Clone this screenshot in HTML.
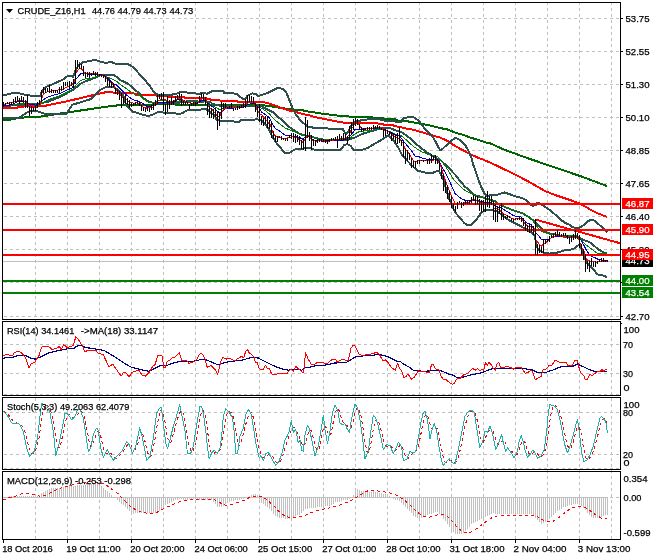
<!DOCTYPE html>
<html><head><meta charset="utf-8"><title>CRUDE_Z16,H1</title>
<style>html,body{margin:0;padding:0;background:#fff;}body{width:660px;height:560px;overflow:hidden;}svg{display:block;}</style>
</head><body>
<svg width="660" height="560" viewBox="0 0 660 560"><rect x="0" y="0" width="660" height="560" fill="#fff"/><path d="M4,18.5H620 M4,51.5H620 M4,84.5H620 M4,117.5H620 M4,150.5H620 M4,183.5H620 M4,216.5H620 M4,249.5H620 M4,282.5H620 M4,316.5H620 M4,344.5H620 M4,373.5H620 M4,394.5H620 M4,412.5H620 M4,454.5H620 M4,468.5H620 M4,497.5H620" stroke="#c0c0c0" stroke-width="1" stroke-dasharray="3 3" fill="none" shape-rendering="crispEdges"/><path d="M35.5,2V539 M67.5,2V539 M99.5,2V539 M131.5,2V539 M163.5,2V539 M195.5,2V539 M227.5,2V539 M259.5,2V539 M291.5,2V539 M323.5,2V539 M355.5,2V539 M387.5,2V539 M419.5,2V539 M451.5,2V539 M483.5,2V539 M515.5,2V539 M547.5,2V539 M579.5,2V539 M611.5,2V539" stroke="#c0c0c0" stroke-width="1" stroke-dasharray="3 3" fill="none" shape-rendering="crispEdges"/><defs><clipPath id="cm"><rect x="3" y="3" width="617" height="316"/></clipPath><clipPath id="c1"><rect x="3" y="322" width="617" height="73"/></clipPath><clipPath id="c2"><rect x="3" y="398" width="617" height="71"/></clipPath><clipPath id="c3"><rect x="3" y="472" width="617" height="67"/></clipPath></defs><g clip-path="url(#cm)"><path d="M2,261.5H620" stroke="#c0c0c0" stroke-width="1" shape-rendering="crispEdges"/><polyline points="3.0,119.8 9.8,119.8 20.5,117.6 36.4,117.2 67.0,112.5 110.0,106.2 120.3,105.1 130.2,104.7 145.3,104.7 165.0,104.3 190.0,104.8 216.0,104.5 233.0,104.6 255.0,104.8 258.0,104.8 265.6,105.6 273.2,106.7 280.7,107.9 288.3,109.0 295.9,109.8 303.5,110.5 308.0,111.5 323.2,113.8 338.3,115.7 345.9,116.4 355.0,116.7 362.6,117.1 383.0,117.9 383.8,119.0 395.2,119.4 397.4,120.5 405.0,120.9 413.0,122.3 428.0,125.1 440.0,128.0 447.6,129.5 455.2,132.6 462.7,134.8 470.3,137.5 477.9,139.8 485.5,142.4 490.0,143.2 505.0,150.0 530.0,159.0 555.0,167.5 580.0,176.0 607.0,186.0" fill="none" stroke="#006400" stroke-width="2" stroke-linejoin="round" shape-rendering="crispEdges" /><polyline points="3.0,107.7 17.4,107.7 18.2,106.6 43.2,106.2 67.0,101.3 83.0,97.5 106.3,92.1 115.0,92.6 127.1,92.6 127.9,93.3 139.2,93.7 140.0,94.5 145.3,94.8 157.4,95.6 165.0,96.4 183.9,97.2 185.5,97.9 205.9,98.3 207.4,99.0 215.0,100.2 219.6,100.5 237.0,101.3 238.1,102.0 258.0,101.8 265.6,102.6 273.2,104.8 280.7,107.9 288.3,110.2 295.9,112.0 303.5,114.3 308.0,114.9 315.6,117.2 323.2,118.7 330.7,120.2 338.3,121.7 345.9,122.9 350.4,123.3 355.0,122.4 361.8,123.2 383.0,123.6 383.8,124.7 392.9,125.1 394.4,126.2 400.5,127.0 403.0,128.0 412.1,129.5 422.7,132.5 430.3,134.8 437.9,137.1 440.0,137.5 447.6,140.9 455.2,146.2 462.7,150.0 470.3,154.2 477.9,157.6 485.5,160.6 490.0,162.5 497.0,165.8 512.0,173.0 526.0,180.2 545.0,191.0 555.0,195.0 568.0,199.3 580.0,203.5 590.0,209.4 597.0,213.0 607.0,217.0" fill="none" stroke="#ff0000" stroke-width="2" stroke-linejoin="round" shape-rendering="crispEdges" /><polyline points="3.0,94.8 7.6,94.5 14.4,92.6 19.0,93.3 25.0,94.8 30.3,95.6 40.2,95.6 42.1,91.4 45.8,87.1 54.2,83.5 63.9,79.2 66.4,76.8 70.0,75.6 73.0,76.8 76.0,69.5 79.7,63.5 80.5,64.1 82.1,62.6 87.4,61.4 94.9,59.9 99.5,61.4 106.3,63.0 110.8,61.8 115.4,63.7 120.0,63.8 127.6,63.8 131.4,66.1 133.6,67.2 138.9,73.6 142.7,77.4 146.5,82.0 150.3,86.5 153.3,91.1 155.6,94.1 159.4,94.8 170.0,94.8 172.6,94.5 176.4,93.7 180.2,91.8 185.5,91.8 187.0,92.6 195.3,93.0 196.8,94.1 199.1,94.1 201.4,93.0 207.4,93.7 210.5,91.8 212.0,91.4 223.4,91.4 224.1,92.9 233.2,93.3 237.0,94.1 242.3,98.6 245.3,99.4 247.6,95.6 252.2,93.3 255.9,94.1 257.5,95.6 260.0,95.5 266.7,93.3 273.3,90.0 278.3,87.5 283.3,89.2 286.7,93.3 289.8,101.1 292.8,108.6 295.9,114.7 301.4,121.8 305.9,124.8 308.0,126.5 315.6,128.2 326.9,128.2 329.2,128.9 342.8,128.9 344.4,132.0 345.9,134.5 348.0,132.0 350.5,127.0 354.0,122.7 355.0,122.0 358.0,120.9 362.6,120.2 370.2,119.0 377.7,119.0 383.8,120.5 389.1,121.3 394.4,121.3 397.4,122.4 400.5,122.4 403.5,118.6 405.0,117.9 406.0,118.0 409.0,116.5 413.0,116.8 419.0,120.8 424.2,128.0 428.8,132.5 433.3,137.8 436.4,143.2 438.6,147.7 440.2,150.0 442.3,149.2 444.5,147.0 449.1,143.2 452.1,140.2 455.2,137.9 458.9,139.4 462.7,142.4 465.8,146.2 468.8,151.5 471.1,156.8 473.3,165.0 476.2,172.9 478.4,179.7 481.5,187.3 484.5,193.3 486.9,195.6 496.0,195.2 504.7,192.4 511.7,195.0 516.2,196.5 522.3,198.0 526.1,200.3 529.9,204.1 532.9,206.0 536.0,204.8 537.5,202.6 540.5,204.1 548.0,208.7 555.7,215.0 560.3,219.5 564.8,222.6 569.4,224.8 572.4,227.1 575.4,227.9 578.5,227.9 581.5,226.4 583.0,225.6 587.0,222.0 591.0,219.5 595.0,221.0 599.5,225.0 603.3,228.0 607.1,232.2" fill="none" stroke="#2f4f4f" stroke-width="2" stroke-linejoin="round" shape-rendering="crispEdges" /><polyline points="3.0,106.0 20.0,105.0 27.0,104.0 39.0,103.6 48.2,101.7 60.3,96.8 72.4,90.2 76.0,87.6 80.5,83.8 85.8,81.1 91.2,79.2 95.7,77.7 99.5,75.5 102.5,74.7 113.1,74.7 116.9,77.0 120.0,80.1 123.8,81.6 127.6,83.5 131.4,86.5 135.2,90.3 138.9,92.6 142.3,97.1 146.8,100.9 151.4,102.4 155.9,103.2 165.0,103.2 172.6,103.6 180.2,102.5 187.7,101.3 190.8,100.6 195.3,100.8 199.8,102.1 205.9,101.3 210.5,102.1 212.0,103.5 218.0,105.4 225.0,106.5 245.0,106.0 257.0,105.5 262.0,106.5 265.6,108.6 273.2,112.4 279.4,118.0 284.7,122.5 289.3,127.1 293.8,130.1 298.4,133.2 302.9,135.0 308.0,135.8 315.6,138.0 323.2,139.5 338.3,139.9 347.4,139.9 350.4,138.8 355.0,137.6 362.6,133.8 370.2,131.5 377.7,129.2 385.3,127.7 388.3,127.7 392.9,129.2 397.4,131.1 400.0,131.4 403.8,133.7 407.6,136.3 411.4,139.4 415.2,143.2 418.9,146.2 422.7,149.2 426.5,152.2 430.3,154.5 434.1,156.8 437.9,159.1 440.5,160.0 445.1,164.5 451.2,170.6 455.7,175.2 460.2,181.2 464.8,186.5 468.7,189.5 473.3,194.1 476.3,195.6 481.6,197.1 485.4,198.3 491.5,200.2 496.0,201.7 499.6,204.8 507.2,207.9 514.7,210.9 522.3,213.2 526.1,215.5 529.9,217.7 533.0,220.3 536.8,224.1 540.6,227.9 544.4,231.7 548.2,233.2 551.9,233.9 555.7,234.7 559.5,235.8 563.3,236.6 567.8,237.0 576.2,237.0 580.0,237.7 583.0,240.0 588.9,241.7 592.7,244.7 596.9,248.1 601.3,251.3 607.0,253.6" fill="none" stroke="#2f4f4f" stroke-width="2" stroke-linejoin="round" shape-rendering="crispEdges" /><polyline points="3.0,118.3 19.7,117.6 22.7,115.3 26.5,112.7 30.3,111.1 36.4,110.8 39.4,111.9 44.5,113.8 66.4,113.8 72.4,104.7 78.5,102.9 90.6,99.2 95.7,94.4 100.2,89.8 104.8,87.6 109.3,86.8 113.9,87.2 116.9,89.1 119.9,92.1 123.0,95.0 126.4,105.5 128.6,107.7 132.4,111.5 137.7,113.0 142.3,114.5 148.3,116.1 152.9,114.5 157.4,112.3 160.5,111.9 165.0,113.0 174.8,113.1 176.4,113.8 180.2,113.8 183.2,112.7 187.0,110.4 191.5,109.7 199.8,109.7 204.4,108.9 208.0,110.0 212.0,113.8 215.0,115.3 216.5,119.8 219.6,120.6 233.2,121.0 234.7,122.1 238.5,122.1 240.8,120.2 254.4,119.8 256.7,119.0 258.0,119.5 262.0,121.0 266.0,125.0 269.6,130.9 273.4,138.5 277.2,143.8 280.9,148.3 284.7,152.8 289.3,152.8 292.3,151.0 296.8,148.7 302.2,149.1 308.0,147.5 315.6,150.0 340.6,150.0 344.4,144.8 347.4,144.1 350.4,145.6 353.5,149.5 356.0,150.0 361.0,150.0 368.0,148.0 372.4,145.0 377.7,142.1 383.8,138.3 386.8,136.1 388.3,135.3 393.0,140.0 398.0,147.0 402.0,155.0 411.7,165.4 417.5,170.5 427.6,173.3 433.3,172.6 436.0,171.5 439.0,171.0 443.0,178.0 447.0,192.0 450.0,201.0 452.8,207.7 455.8,213.0 459.6,217.6 464.2,222.9 467.2,225.0 471.0,225.0 474.8,221.4 477.8,217.6 481.6,212.3 485.4,210.0 491.5,210.0 496.0,211.0 496.5,210.9 499.6,213.2 504.1,217.0 510.2,220.8 516.2,223.8 520.8,226.1 524.6,228.3 529.9,231.4 532.9,233.6 534.4,235.0 538.0,250.0 543.6,252.9 549.7,253.6 555.7,252.9 559.5,252.1 563.3,250.6 569.4,249.8 573.2,249.1 576.2,246.8 579.2,244.5 579.8,244.7 582.0,250.0 584.5,257.0 586.3,262.5 590.6,266.9 593.8,270.0 597.5,274.4 601.3,275.0 607.0,277.0" fill="none" stroke="#2f4f4f" stroke-width="2" stroke-linejoin="round" shape-rendering="crispEdges" /><polyline points="3.0,106.2 15.2,104.3 22.7,103.2 27.3,104.0 34.1,105.1 39.4,104.7 42.1,103.5 48.2,99.8 60.3,95.6 72.4,89.5 76.0,85.3 80.5,80.8 83.6,79.2 89.6,78.5 94.9,77.3 98.7,75.5 103.3,75.5 107.8,77.3 112.4,79.2 116.9,81.5 120.0,84.2 125.6,88.0 131.7,92.6 136.2,95.6 140.0,95.6 143.8,99.4 148.3,102.4 152.9,103.2 157.4,100.9 162.0,100.9 165.0,100.9 172.6,102.1 180.2,100.9 187.7,101.7 195.3,102.1 202.9,100.9 207.4,101.7 212.0,105.4 216.5,107.7 219.6,109.6 223.4,108.1 230.9,107.3 238.5,106.9 246.1,106.2 251.4,105.0 255.9,105.4 259.0,106.9 262.0,108.5 265.6,110.9 269.4,113.9 273.2,118.5 277.2,121.8 280.9,124.8 284.7,127.8 288.5,129.4 292.3,130.9 296.1,132.4 299.9,134.3 303.7,135.4 308.0,135.0 311.8,136.5 315.6,138.4 323.2,139.2 330.7,139.5 338.3,139.2 347.4,138.4 350.4,137.3 353.5,135.0 355.0,133.8 359.5,131.5 366.4,130.8 373.9,130.0 380.0,129.2 385.3,130.0 389.8,131.5 394.4,133.8 398.2,135.3 400.0,134.8 403.8,137.8 407.6,140.9 411.4,144.7 415.2,147.7 418.9,150.0 422.7,152.2 426.5,153.8 430.3,154.9 434.1,155.3 436.4,156.0 439.4,158.3 440.5,160.0 445.8,166.8 449.6,172.9 452.7,178.2 457.2,183.5 461.8,188.0 464.8,190.3 469.3,192.6 473.9,194.8 478.4,197.1 482.4,197.9 486.9,198.6 491.5,199.4 492.0,200.3 496.5,202.6 501.8,205.6 507.2,207.9 514.7,210.2 522.3,213.2 526.8,215.5 531.4,218.5 533.0,221.1 536.8,226.4 540.6,230.9 544.4,232.4 548.2,233.9 551.9,234.7 555.7,235.1 563.3,235.5 570.9,235.8 575.4,235.5 578.5,236.2 581.5,238.5 582.9,241.7 586.7,245.5 591.3,248.8 595.6,252.2 597.5,253.1 600.6,253.4 607.0,253.6" fill="none" stroke="#008000" stroke-width="1" stroke-linejoin="round" shape-rendering="crispEdges" /><polyline points="3.0,106.2 11.4,104.7 16.7,102.0 22.7,101.3 26.5,102.0 30.3,104.7 36.4,105.1 40.2,102.8 43.3,99.8 48.2,96.8 60.3,93.2 72.4,87.7 76.0,79.2 79.0,75.5 81.3,73.2 84.3,73.6 91.2,74.3 98.7,74.7 103.3,75.1 106.3,77.0 110.1,80.8 113.9,83.8 116.5,85.0 121.8,90.3 126.4,94.8 130.2,97.9 134.7,100.2 139.2,101.3 142.3,103.2 146.8,106.2 151.4,106.2 154.4,105.5 157.4,103.2 160.5,102.4 165.0,102.8 172.6,102.5 176.4,100.2 180.2,99.0 183.9,100.2 187.7,102.5 195.3,103.6 199.1,102.5 201.4,100.2 204.4,100.2 207.4,102.5 210.5,105.5 212.0,106.2 215.8,110.0 219.6,113.0 221.8,111.5 224.9,108.8 230.9,108.1 238.5,107.7 243.8,106.9 247.6,104.7 251.4,103.5 254.4,103.5 257.5,106.2 260.5,110.0 261.8,112.4 265.6,114.7 269.6,118.0 272.6,124.8 275.6,128.6 278.7,130.5 282.5,133.2 285.5,135.4 290.8,135.8 296.1,136.6 299.9,137.7 302.9,139.2 305.2,136.9 308.0,135.8 311.8,138.8 315.6,140.7 323.2,141.1 330.7,140.7 338.3,140.3 345.9,139.9 349.7,136.5 353.5,132.0 355.0,129.6 359.5,129.2 366.4,128.9 373.9,128.5 380.0,127.7 383.8,129.2 389.1,131.5 392.9,133.8 396.7,135.3 400.0,136.3 403.8,141.6 407.6,146.2 411.4,150.7 415.2,156.0 418.9,156.8 422.7,158.3 426.5,159.1 434.8,159.1 437.9,160.6 438.3,160.0 441.3,166.1 445.1,172.1 448.9,179.7 451.9,186.5 454.9,193.3 457.4,195.6 461.2,198.6 464.9,200.2 470.2,200.5 474.8,200.2 479.3,200.9 483.9,202.0 488.4,202.8 493.0,203.2 493.5,204.8 496.5,206.4 501.1,207.9 504.9,210.2 508.7,212.4 512.5,215.1 516.2,216.6 520.8,217.0 523.8,220.0 526.8,223.0 531.4,224.5 533.0,227.9 536.0,233.2 539.1,236.2 541.3,239.2 548.2,239.2 551.9,237.7 555.7,236.2 559.5,236.2 563.3,236.6 567.1,237.0 570.9,237.7 574.7,237.3 578.5,237.7 580.6,239.4 583.6,244.7 586.3,250.0 588.8,253.8 591.9,256.3 596.3,258.4 598.8,259.7 601.3,260.0 607.5,260.6" fill="none" stroke="#0000cd" stroke-width="1" stroke-linejoin="round" shape-rendering="crispEdges" /><polyline points="3.0,104.3 7.6,103.6 15.2,101.3 21.2,100.5 25.8,101.7 28.0,104.0 30.3,107.0 34.8,107.7 37.9,106.6 40.2,104.0 41.5,99.8 43.3,93.8 48.2,91.4 54.2,90.8 62.7,89.0 72.4,84.7 74.8,80.5 76.0,73.2 78.3,69.4 80.5,68.3 82.8,70.2 84.3,73.2 87.4,73.6 94.9,73.2 98.7,74.7 102.5,75.5 106.3,77.7 108.6,80.8 111.6,83.4 113.9,85.3 115.0,88.0 118.0,92.6 121.0,95.6 124.1,98.6 127.1,100.2 130.2,102.4 133.9,103.2 137.7,102.8 140.8,103.9 143.0,107.0 146.8,108.1 149.8,107.7 152.9,107.0 155.9,103.9 158.2,100.9 160.5,99.8 163.5,99.4 166.0,100.0 169.5,102.5 172.6,101.7 175.6,100.2 178.6,97.9 181.7,99.4 184.7,101.7 187.7,102.8 191.5,103.2 195.3,103.2 198.3,102.1 200.6,99.4 202.9,98.3 205.2,99.4 207.4,104.0 209.7,107.8 212.0,109.2 215.0,113.0 218.1,116.8 219.6,117.2 221.1,113.0 223.4,109.2 227.2,107.7 231.7,107.3 237.0,107.7 242.3,106.6 245.3,104.7 247.6,103.2 249.9,101.6 252.9,102.4 255.2,105.4 257.5,110.7 260.5,114.5 261.0,113.9 264.1,117.7 268.0,122.5 270.3,124.8 271.8,130.1 274.1,134.7 277.2,136.6 280.9,137.7 284.7,138.5 288.5,137.7 292.3,136.9 296.8,137.7 299.9,140.0 302.9,142.2 304.4,140.0 308.0,135.0 311.8,139.9 315.6,141.1 323.2,140.7 327.7,141.8 330.7,140.3 338.3,139.5 345.9,138.0 348.9,135.0 351.2,129.7 353.5,125.9 355.0,122.4 358.0,122.4 360.3,127.0 364.1,129.2 370.2,128.5 376.2,127.7 380.0,127.3 383.8,130.0 388.3,131.5 392.9,135.3 397.4,137.6 400.0,139.4 403.0,143.2 405.3,149.2 408.3,152.2 410.6,156.8 412.9,159.8 415.2,162.1 418.2,160.6 430.3,160.6 434.8,159.8 437.9,161.3 440.2,164.4 442.8,172.9 445.1,179.7 447.4,185.8 449.6,191.8 451.9,196.4 455.1,203.2 461.2,203.2 468.7,202.4 473.3,199.4 476.3,200.2 479.3,202.4 483.9,203.2 488.4,203.2 493.0,203.9 493.5,207.9 496.5,208.6 499.6,210.2 502.6,213.2 507.2,215.5 511.7,218.5 514.7,219.2 519.3,218.5 522.3,219.2 524.6,223.0 527.6,226.1 531.4,226.8 534.5,228.6 536.0,240.0 539.1,243.8 541.3,246.1 543.6,243.8 545.9,242.3 548.2,240.8 551.2,237.7 554.2,236.2 557.2,235.5 561.8,236.2 566.3,237.0 570.9,237.7 575.4,237.0 578.5,237.7 579.8,242.4 581.3,246.9 583.8,250.6 585.6,257.5 587.5,260.0 590.0,261.3 593.8,261.9 596.3,262.2 598.8,261.6 601.3,261.3 607.5,261.4" fill="none" stroke="#ff0000" stroke-width="1" stroke-linejoin="round" shape-rendering="crispEdges" /><path d="M2,203.5H620" stroke="#ff0000" stroke-width="2" shape-rendering="crispEdges"/><path d="M2,229.5H620" stroke="#ff0000" stroke-width="2" shape-rendering="crispEdges"/><path d="M2,254.5H620" stroke="#ff0000" stroke-width="2" shape-rendering="crispEdges"/><path d="M2,280.5H620" stroke="#008000" stroke-width="2" shape-rendering="crispEdges"/><path d="M2,292.5H620" stroke="#008000" stroke-width="2" shape-rendering="crispEdges"/><polyline points="535.8,219.7 620.0,243.2" fill="none" stroke="#ff0000" stroke-width="2" stroke-linejoin="round" shape-rendering="crispEdges" /><path d="M3.5,102V106 M5.5,103V105 M7.5,102V104 M9.5,102V105 M11.5,102V105 M13.5,99V104 M15.5,97V102 M17.5,96V102 M19.5,98V104 M21.5,96V102 M23.5,97V103 M25.5,100V108 M27.5,95V108 M29.5,106V116 M31.5,106V114 M33.5,107V111 M35.5,106V111 M37.5,102V108 M39.5,100V105 M41.5,90V102 M43.5,87V93 M45.5,88V93 M47.5,88V92 M49.5,85V93 M51.5,89V93 M53.5,90V93 M55.5,90V93 M57.5,90V93 M59.5,87V93 M61.5,86V91 M63.5,82V90 M65.5,82V86 M67.5,82V86 M69.5,81V88 M71.5,82V86 M73.5,79V88 M75.5,60V84 M77.5,60V69 M79.5,64V69 M81.5,64V69 M83.5,66V76 M85.5,72V78 M87.5,72V77 M89.5,72V78 M91.5,73V76 M93.5,71V75 M95.5,72V76 M97.5,72V76 M99.5,74V76 M101.5,75V77 M103.5,75V78 M105.5,76V82 M107.5,78V86 M109.5,80V87 M111.5,82V88 M113.5,83V87 M115.5,88V94 M117.5,90V95 M119.5,91V100 M121.5,93V108 M123.5,97V104 M125.5,94V104 M127.5,98V105 M129.5,100V108 M131.5,103V107 M133.5,103V106 M135.5,102V105 M137.5,101V104 M139.5,102V106 M141.5,105V111 M143.5,107V111 M145.5,108V112 M147.5,107V111 M149.5,108V112 M151.5,105V110 M153.5,103V110 M155.5,100V106 M157.5,95V104 M159.5,94V99 M161.5,93V100 M163.5,92V111 M165.5,104V115 M167.5,96V112 M169.5,100V109 M171.5,97V105 M173.5,100V105 M175.5,96V102 M177.5,95V100 M179.5,93V98 M181.5,94V106 M183.5,101V105 M185.5,102V105 M187.5,102V104 M189.5,104V109 M191.5,103V106 M193.5,102V106 M195.5,102V106 M197.5,102V104 M199.5,96V102 M201.5,93V98 M203.5,94V100 M205.5,97V105 M207.5,103V115 M209.5,106V118 M211.5,108V118 M213.5,109V119 M215.5,108V117 M217.5,111V130 M219.5,113V126 M221.5,102V119 M223.5,103V109 M225.5,103V108 M227.5,107V108 M229.5,106V108 M231.5,103V108 M233.5,108V111 M235.5,108V110 M237.5,106V110 M239.5,106V109 M241.5,105V108 M243.5,103V108 M245.5,99V108 M247.5,95V103 M249.5,95V102 M251.5,96V102 M253.5,97V104 M255.5,103V112 M257.5,107V117 M259.5,104V122 M261.5,116V125 M263.5,118V126 M265.5,116V124 M267.5,116V128 M269.5,120V129 M271.5,122V138 M273.5,131V139 M275.5,136V142 M277.5,136V142 M279.5,136V138 M281.5,136V140 M283.5,138V140 M285.5,138V141 M287.5,138V141 M289.5,135V138 M291.5,133V139 M293.5,133V142 M295.5,134V143 M297.5,135V142 M299.5,136V145 M301.5,140V149 M303.5,138V150 M305.5,117V151 M307.5,120V138 M309.5,132V141 M311.5,135V150 M313.5,139V146 M315.5,140V146 M317.5,139V143 M319.5,139V142 M321.5,139V141 M323.5,139V142 M325.5,140V143 M327.5,140V144 M329.5,139V142 M331.5,138V141 M333.5,138V140 M335.5,137V140 M337.5,136V148 M339.5,134V140 M341.5,136V140 M343.5,133V140 M345.5,134V140 M347.5,136V144 M349.5,126V140 M351.5,122V135 M353.5,119V130 M355.5,118V126 M357.5,119V125 M359.5,124V129 M361.5,127V132 M363.5,128V131 M365.5,128V130 M367.5,127V130 M369.5,127V130 M371.5,127V130 M373.5,125V129 M375.5,126V128 M377.5,125V128 M379.5,126V129 M381.5,128V130 M383.5,129V137 M385.5,129V136 M387.5,130V134 M389.5,132V135 M391.5,132V141 M393.5,134V139 M395.5,135V143 M397.5,133V144 M399.5,127V143 M401.5,140V146 M403.5,141V157 M405.5,149V164 M407.5,150V161 M409.5,153V160 M411.5,158V168 M413.5,161V168 M415.5,161V168 M417.5,160V164 M419.5,160V164 M421.5,160V161 M423.5,160V162 M425.5,160V161 M427.5,160V164 M429.5,158V164 M431.5,154V163 M433.5,156V160 M435.5,155V164 M437.5,159V164 M439.5,161V170 M441.5,169V179 M443.5,174V191 M445.5,181V193 M447.5,185V199 M449.5,191V202 M451.5,196V208 M453.5,204V210 M455.5,206V212 M457.5,202V209 M459.5,201V203 M461.5,202V208 M463.5,202V206 M465.5,201V204 M467.5,201V204 M469.5,200V204 M471.5,197V203 M473.5,195V200 M475.5,196V205 M477.5,196V204 M479.5,199V211 M481.5,200V212 M483.5,200V212 M485.5,196V212 M487.5,191V207 M489.5,196V208 M491.5,196V205 M493.5,201V220 M495.5,204V222 M497.5,206V222 M499.5,206V214 M501.5,203V220 M503.5,214V220 M505.5,216V219 M507.5,215V218 M509.5,216V218 M511.5,218V221 M513.5,219V222 M515.5,218V220 M517.5,218V220 M519.5,217V220 M521.5,217V222 M523.5,218V226 M525.5,222V231 M527.5,225V232 M529.5,224V233 M531.5,225V232 M533.5,226V235 M535.5,219V255 M537.5,244V255 M539.5,245V253 M541.5,247V253 M543.5,239V253 M545.5,240V244 M547.5,239V242 M549.5,236V242 M551.5,235V238 M553.5,234V238 M555.5,232V236 M557.5,230V236 M559.5,232V236 M561.5,234V237 M563.5,233V236 M565.5,233V236 M567.5,235V239 M569.5,237V244 M571.5,236V242 M573.5,234V240 M575.5,230V239 M577.5,233V239 M579.5,235V248 M581.5,244V255 M583.5,249V260 M585.5,254V272 M587.5,261V269 M589.5,261V272 M591.5,258V266 M593.5,262V267 M595.5,261V267 M597.5,261V264 M599.5,259V262 M601.5,258V262 M603.5,258V262 M605.5,260V262 M607.5,260V262" stroke="#000" stroke-width="1" shape-rendering="crispEdges"/></g><g clip-path="url(#c1)"><polyline points="2.4,358.5 7.3,357.3 12.1,357.3 18.2,355.5 25.5,355.5 30.3,357.9 35.2,359.1 41.2,356.7 48.5,353.0 55.8,351.2 61.8,350.0 67.9,348.8 73.9,348.8 76.4,346.4 80.0,345.2 86.1,347.6 98.2,349.4 104.2,350.6 111.5,354.8 116.4,357.9 122.4,362.1 130.9,367.0 138.2,368.8 144.2,370.6 149.1,371.2 153.9,368.8 160.0,365.9 163.6,365.3 167.3,365.3 172.1,363.5 178.2,361.7 184.2,361.1 193.9,361.1 197.6,360.5 201.2,359.2 206.1,359.8 210.9,361.7 214.5,363.5 218.2,364.7 221.8,363.5 225.5,362.3 229.1,361.7 232.7,361.1 240.0,360.5 243.6,359.8 247.3,358.6 252.1,357.4 258.2,358.0 264.2,361.1 270.3,364.1 276.4,367.1 282.4,368.9 288.5,370.2 293.3,369.5 298.2,369.5 301.8,370.2 305.5,367.7 310.3,367.1 315.2,365.9 320.0,365.3 324.8,365.1 329.7,364.1 334.5,363.1 340.6,362.6 346.7,362.3 351.5,359.2 356.4,356.6 361.2,356.2 366.1,355.4 373.3,355.4 378.2,354.2 381.8,355.0 386.7,356.2 391.5,358.6 396.4,361.1 400.0,361.2 403.6,364.2 408.5,366.7 413.3,370.3 418.2,370.9 424.2,371.3 430.3,370.9 433.9,370.3 440.0,370.3 443.6,371.8 448.5,373.9 453.3,375.2 457.0,377.6 461.8,377.6 466.7,376.1 472.7,374.5 480.0,373.3 484.8,371.5 490.9,369.1 498.2,368.1 510.3,368.2 522.4,368.2 528.5,369.5 532.1,369.7 537.0,372.1 541.8,372.7 546.7,372.1 550.0,370.8 554.2,369.7 558.5,367.6 562.7,366.5 568.0,366.0 573.3,366.0 577.6,363.9 581.8,366.0 587.1,368.6 592.4,370.8 596.7,371.6 606.7,371.6" fill="none" stroke="#000080" stroke-width="1.2" stroke-linejoin="round" shape-rendering="crispEdges" /><polyline points="2.4,356.1 7.3,354.2 12.1,356.1 14.5,352.4 18.8,351.2 22.4,353.6 25.5,357.9 29.1,368.2 31.5,363.3 34.5,362.7 36.4,359.1 38.8,356.1 41.8,347.0 46.1,346.4 48.5,346.4 52.1,349.4 57.0,348.2 59.4,346.4 61.2,350.0 63.6,344.5 65.5,345.8 67.3,348.2 69.7,346.4 73.3,345.8 75.8,336.7 78.2,339.1 80.0,342.1 82.4,345.8 84.8,351.8 87.3,350.6 89.7,350.0 95.8,350.0 98.2,353.6 103.0,354.2 109.1,367.0 112.7,364.0 116.4,369.4 121.2,376.1 123.6,372.4 126.1,373.0 129.1,376.7 132.1,372.4 137.0,370.6 139.4,370.6 141.8,374.8 145.5,376.1 149.7,371.8 152.7,366.4 155.2,364.5 157.6,355.5 160.0,355.6 161.5,355.6 162.4,356.8 163.6,367.1 165.5,367.1 167.3,361.1 169.7,360.5 172.1,358.0 174.5,357.4 177.0,355.0 179.4,352.6 181.8,360.5 184.2,361.1 186.1,359.8 189.1,363.5 191.5,362.3 193.9,361.7 196.4,359.8 198.8,355.6 200.6,353.2 202.4,354.4 204.8,358.0 207.3,367.7 210.9,365.3 213.3,367.7 215.8,370.2 217.6,374.4 219.4,367.7 221.2,359.8 223.0,357.4 226.1,359.2 229.1,358.0 232.7,359.8 235.2,360.5 237.6,358.6 240.0,357.4 241.8,356.2 243.6,358.0 245.5,352.0 247.3,349.3 249.1,352.6 252.1,355.0 254.5,357.4 255.2,362.9 257.0,362.3 259.4,368.9 263.0,369.5 265.5,365.3 267.3,368.3 269.7,368.9 271.5,373.8 275.2,375.0 277.6,373.5 282.4,373.5 287.3,373.2 289.1,370.8 290.9,368.9 293.3,371.4 295.8,366.5 297.0,367.7 300.0,370.2 303.0,372.6 304.2,368.3 305.5,352.6 307.9,358.6 311.5,364.7 313.9,364.7 317.6,362.3 320.0,362.3 323.6,362.9 327.3,363.5 330.3,360.5 333.3,359.2 335.8,359.8 337.6,362.3 340.0,360.5 342.4,359.2 344.8,359.8 347.9,361.1 349.7,354.4 350.9,348.3 352.7,345.9 354.5,345.3 356.4,348.3 358.8,353.8 361.2,355.0 363.6,355.6 366.7,354.4 369.7,354.4 373.3,353.2 377.0,352.6 379.4,354.4 381.2,358.0 383.0,360.5 385.5,359.8 387.9,362.3 391.5,367.7 395.2,370.2 397.6,363.5 400.0,369.1 401.8,370.9 403.6,377.6 406.1,376.4 407.9,373.9 409.7,376.4 411.5,379.4 414.5,377.0 416.4,373.9 418.2,370.9 420.0,372.1 422.4,371.5 426.1,372.1 429.1,372.7 430.3,369.1 431.5,364.8 433.3,364.8 435.8,369.1 438.8,369.7 441.2,376.4 443.6,380.0 446.1,379.4 448.5,381.8 452.1,384.2 453.9,383.6 457.0,378.8 460.6,378.2 463.0,375.2 466.7,373.9 469.7,371.5 472.7,368.5 475.2,370.3 477.6,368.5 480.0,370.9 482.4,369.1 483.6,370.9 485.5,362.4 487.3,365.5 489.1,362.4 491.5,364.8 493.3,368.5 495.2,370.3 497.0,363.6 498.8,362.4 500.6,367.3 504.2,367.3 507.3,366.4 510.3,367.3 513.3,369.1 515.2,367.6 521.2,367.6 523.0,370.3 525.5,373.3 528.5,372.1 531.5,370.3 533.3,373.9 535.2,380.0 538.2,377.6 541.2,376.4 543.0,369.7 546.1,369.1 549.1,365.5 550.0,365.5 552.1,364.9 555.3,360.1 559.5,362.3 565.9,362.3 568.0,365.5 572.3,365.5 574.9,360.7 577.6,360.7 578.6,365.5 579.7,370.8 581.8,373.9 583.9,376.1 585.5,379.8 587.6,379.2 589.8,374.5 592.4,375.5 595.6,372.9 597.7,371.8 600.4,371.3 602.0,369.2 603.6,371.3 605.7,369.2 606.7,369.7" fill="none" stroke="#ff0000" stroke-width="1" stroke-linejoin="round" shape-rendering="crispEdges" /></g><g clip-path="url(#c2)"><polyline points="3.0,411.3 5.0,412.1 7.0,413.1 9.0,415.4 11.0,418.3 13.0,421.0 15.0,422.6 17.0,423.1 19.0,423.4 21.0,424.7 23.0,427.2 25.0,432.3 27.0,439.7 29.0,447.6 31.0,452.7 33.0,454.0 35.0,451.9 37.0,446.9 39.0,437.7 41.0,424.5 43.0,412.4 45.0,405.8 47.0,405.0 49.0,407.2 51.0,411.6 53.0,419.5 55.0,432.0 57.0,442.8 59.0,447.5 61.0,443.0 63.0,434.1 65.0,423.9 67.0,417.0 69.0,414.2 71.0,416.1 73.0,417.7 75.0,417.8 77.0,415.2 79.0,412.3 81.0,411.0 83.0,413.1 85.0,419.6 87.0,429.8 89.0,440.8 91.0,446.7 93.0,444.5 95.0,438.2 97.0,432.0 99.0,431.7 101.0,437.5 103.0,446.7 105.0,453.0 107.0,453.6 109.0,452.5 111.0,453.2 113.0,456.4 115.0,458.3 117.0,458.1 119.0,456.1 121.0,454.0 123.0,451.6 125.0,448.6 127.0,445.3 129.0,443.8 131.0,445.2 133.0,448.6 135.0,449.7 137.0,446.8 139.0,439.8 141.0,434.7 143.0,434.7 145.0,441.5 147.0,450.7 149.0,456.4 151.0,456.1 153.0,449.3 155.0,438.6 157.0,425.9 159.0,415.7 161.0,409.7 163.0,412.4 165.0,421.6 167.0,434.8 169.0,442.3 171.0,442.0 173.0,435.5 175.0,428.0 177.0,420.9 179.0,414.2 181.0,410.9 183.0,413.2 185.0,421.2 187.0,433.9 189.0,444.7 191.0,451.7 193.0,451.0 195.0,445.0 197.0,435.2 199.0,423.5 201.0,413.7 203.0,410.0 205.0,414.5 207.0,426.8 209.0,442.0 211.0,451.7 213.0,454.6 215.0,452.5 217.0,451.8 219.0,451.2 221.0,447.9 223.0,437.1 225.0,424.1 227.0,413.8 229.0,411.1 231.0,412.5 233.0,416.4 235.0,426.6 237.0,439.2 239.0,446.3 241.0,443.3 243.0,435.2 245.0,427.2 247.0,419.9 249.0,413.8 251.0,412.2 253.0,416.4 255.0,425.5 257.0,436.9 259.0,447.7 261.0,453.8 263.0,457.6 265.0,457.2 267.0,456.3 269.0,454.2 271.0,454.6 273.0,457.2 275.0,460.7 277.0,462.9 279.0,462.9 281.0,460.3 283.0,455.2 285.0,448.2 287.0,441.7 289.0,436.0 291.0,430.1 293.0,428.1 295.0,427.7 297.0,432.3 299.0,436.2 301.0,441.5 303.0,446.5 305.0,444.1 307.0,437.7 309.0,429.9 311.0,430.5 313.0,436.7 315.0,445.9 317.0,450.4 319.0,449.2 321.0,440.7 323.0,429.8 325.0,425.7 327.0,429.4 329.0,435.7 331.0,433.6 333.0,423.6 335.0,413.1 337.0,408.2 339.0,410.5 341.0,416.7 343.0,422.0 345.0,424.0 347.0,425.6 349.0,428.0 351.0,427.5 353.0,422.2 355.0,412.9 357.0,407.8 359.0,408.7 361.0,416.4 363.0,428.1 365.0,442.7 367.0,451.7 369.0,452.9 371.0,443.3 373.0,431.0 375.0,421.5 377.0,418.9 379.0,422.9 381.0,429.9 383.0,438.6 385.0,444.5 387.0,446.7 389.0,445.7 391.0,446.0 393.0,448.8 395.0,450.5 397.0,449.7 399.0,446.4 401.0,444.9 403.0,449.1 405.0,454.8 407.0,459.1 409.0,457.6 411.0,454.9 413.0,452.8 415.0,452.2 417.0,449.9 419.0,443.5 421.0,433.6 423.0,423.1 425.0,415.6 427.0,414.3 429.0,420.2 431.0,427.8 433.0,430.7 435.0,428.9 437.0,428.5 439.0,435.2 441.0,445.8 443.0,456.3 445.0,461.8 447.0,463.0 449.0,461.1 451.0,460.4 453.0,461.0 455.0,462.6 457.0,460.6 459.0,455.1 461.0,446.0 463.0,436.4 465.0,426.4 467.0,418.7 469.0,413.6 471.0,411.7 473.0,411.1 475.0,413.1 477.0,419.5 479.0,430.0 481.0,439.2 483.0,442.5 485.0,438.7 487.0,434.4 489.0,430.7 491.0,430.0 493.0,431.4 495.0,437.1 497.0,442.9 499.0,444.8 501.0,441.7 503.0,439.9 505.0,442.2 507.0,446.4 509.0,449.2 511.0,450.5 513.0,452.8 515.0,455.0 517.0,454.9 519.0,450.4 521.0,443.7 523.0,440.0 525.0,442.4 527.0,448.9 529.0,453.7 531.0,454.8 533.0,452.8 535.0,451.9 537.0,453.2 539.0,455.7 541.0,456.7 543.0,455.1 545.0,450.6 547.0,441.2 549.0,426.8 551.0,413.9 553.0,406.5 555.0,405.7 557.0,407.0 559.0,410.3 561.0,416.6 563.0,425.4 565.0,435.3 567.0,444.2 569.0,448.7 571.0,447.8 573.0,442.5 575.0,435.5 577.0,428.3 579.0,426.3 581.0,432.7 583.0,445.1 585.0,455.4 587.0,459.8 589.0,459.1 591.0,456.2 593.0,451.9 595.0,446.0 597.0,438.7 599.0,430.3 601.0,423.0 603.0,419.0 605.0,418.5 607.0,422.7" fill="none" stroke="#ff0000" stroke-width="1" stroke-linejoin="round" shape-rendering="crispEdges" stroke-dasharray="3 3"/><polyline points="3.3,411.3 7.5,415.5 11.7,423.0 16.7,423.0 20.0,424.7 23.3,431.3 26.7,448.0 29.7,456.3 34.2,451.3 37.5,438.0 40.0,416.3 41.7,403.0 44.2,404.7 47.5,406.3 50.0,413.0 53.3,431.3 55.8,455.5 59.2,443.0 63.3,423.0 65.0,413.0 67.5,413.8 71.7,419.7 75.0,416.3 77.5,409.7 80.0,409.7 83.3,418.0 85.8,434.7 88.3,451.3 90.8,448.0 93.3,434.7 96.7,428.0 98.3,430.5 100.8,448.0 103.3,457.2 104.2,455.5 107.5,449.7 110.0,454.7 113.3,460.5 116.7,456.3 121.7,451.3 126.7,441.7 129.2,444.7 132.5,453.0 135.8,446.3 139.7,427.7 142.5,438.0 146.7,460.5 150.0,456.3 153.3,438.0 156.7,413.0 159.2,408.8 161.3,407.2 163.3,423.0 165.8,443.0 167.5,448.8 170.0,439.7 173.3,426.3 176.7,415.5 179.7,404.7 181.7,414.7 185.0,431.3 187.5,453.8 190.8,453.0 193.3,446.3 196.7,424.7 200.0,406.3 201.7,406.3 203.3,413.0 205.8,431.3 207.5,448.0 209.2,458.8 211.7,453.0 214.2,450.5 217.5,453.0 220.0,448.0 221.7,436.3 223.3,416.3 225.8,408.8 229.2,412.2 232.5,418.0 234.2,431.3 235.8,453.8 237.5,453.0 240.0,436.3 243.3,428.0 245.8,414.7 248.3,409.3 250.8,413.0 253.3,426.3 255.8,443.0 259.2,458.0 260.8,455.5 263.3,460.5 265.8,453.8 268.3,452.2 270.0,455.5 273.3,461.3 275.8,465.5 278.3,462.2 281.7,454.7 285.0,439.7 286.7,437.2 289.2,431.3 291.3,420.5 293.3,432.2 295.8,429.7 298.3,443.0 300.0,440.5 301.7,450.5 303.3,451.3 305.0,434.7 307.5,425.5 309.2,428.0 311.7,439.7 315.0,455.5 318.3,446.3 320.8,431.3 323.3,415.5 325.0,429.7 327.5,443.8 330.0,431.3 332.5,412.2 335.0,405.0 337.5,409.7 340.0,423.0 342.5,424.7 345.0,423.8 347.5,429.7 349.5,432.2 351.7,418.0 355.0,403.8 357.5,408.0 360.0,419.7 362.5,438.0 365.0,458.8 368.3,451.3 370.8,431.3 373.3,415.5 375.8,418.0 378.3,426.3 381.7,441.3 383.3,449.7 386.7,444.7 390.0,445.5 393.3,453.8 395.8,448.8 398.3,442.2 400.8,445.5 401.7,448.0 403.3,460.5 406.7,459.7 410.0,451.3 413.3,453.0 415.8,451.3 418.3,438.0 420.8,423.0 423.3,412.2 425.0,411.3 427.5,419.7 430.0,438.8 432.0,429.7 434.2,423.0 436.7,431.3 439.2,448.0 441.7,461.3 443.3,465.5 445.8,462.2 449.2,458.8 451.7,462.2 455.0,463.8 458.3,449.7 461.7,433.0 465.0,416.3 468.3,411.3 471.7,410.5 474.2,412.2 476.7,428.0 479.7,447.2 482.5,442.2 485.0,431.3 487.5,432.2 490.0,426.3 492.5,433.8 495.8,449.7 499.2,441.3 501.7,434.7 503.3,443.0 505.8,451.3 507.5,448.0 510.8,452.2 514.2,458.0 517.5,451.3 519.2,441.3 521.3,435.5 523.3,442.2 525.0,449.7 527.5,457.2 530.0,454.7 533.0,449.7 535.0,453.0 537.5,458.0 540.8,456.3 544.2,449.7 546.7,431.3 548.3,413.0 549.7,404.7 552.5,405.5 555.0,406.3 557.5,409.7 560.0,419.7 562.5,433.0 565.0,445.5 567.5,453.0 570.0,446.3 573.3,434.7 575.8,424.7 577.5,419.7 579.2,431.3 581.7,453.0 583.7,461.3 586.7,460.5 590.0,454.7 593.3,446.3 596.7,431.3 600.0,418.0 601.7,416.3 604.2,419.7 605.8,421.3 607.5,433.0" fill="none" stroke="#20b2aa" stroke-width="1" stroke-linejoin="round" shape-rendering="crispEdges" /></g><g clip-path="url(#c3)"><path d="M3.5,497V498 M5.5,497V498 M7.5,497V498 M9.5,496V497 M11.5,496V497 M13.5,496V497 M15.5,496V497 M17.5,496V497 M19.5,496V497 M21.5,496V497 M23.5,496V497 M25.5,496V497 M27.5,496V497 M29.5,496V497 M31.5,496V497 M33.5,496V497 M35.5,496V497 M37.5,496V497 M39.5,495V497 M41.5,493V497 M43.5,492V497 M45.5,491V497 M47.5,490V497 M49.5,489V497 M51.5,488V497 M53.5,488V497 M55.5,488V497 M57.5,488V497 M59.5,488V497 M61.5,488V497 M63.5,487V497 M65.5,487V497 M67.5,487V497 M69.5,487V497 M71.5,486V497 M73.5,486V497 M75.5,486V497 M77.5,485V497 M79.5,485V497 M81.5,485V497 M83.5,485V497 M85.5,485V497 M87.5,485V497 M89.5,484V497 M91.5,484V497 M93.5,484V497 M95.5,484V497 M97.5,484V497 M99.5,485V497 M101.5,486V497 M103.5,488V497 M105.5,490V497 M107.5,491V497 M109.5,493V497 M111.5,495V497 M113.5,497V498 M115.5,497V498 M117.5,497V500 M119.5,497V502 M121.5,497V504 M123.5,497V505 M125.5,497V507 M127.5,497V509 M129.5,497V511 M131.5,497V514 M133.5,497V514 M135.5,497V513 M137.5,497V513 M139.5,497V513 M141.5,497V513 M143.5,497V513 M145.5,497V513 M147.5,497V513 M149.5,497V513 M151.5,497V513 M153.5,497V513 M155.5,497V513 M157.5,497V513 M159.5,497V511 M161.5,497V509 M163.5,497V507 M165.5,497V505 M167.5,497V504 M169.5,497V503 M171.5,497V502 M173.5,497V501 M175.5,497V500 M177.5,497V500 M179.5,497V499 M181.5,497V499 M183.5,497V500 M185.5,497V500 M187.5,497V500 M189.5,497V499 M191.5,497V499 M193.5,497V499 M195.5,497V499 M197.5,497V499 M199.5,497V500 M201.5,497V500 M203.5,497V500 M205.5,497V500 M207.5,497V500 M209.5,497V500 M211.5,497V500 M213.5,497V502 M215.5,497V504 M217.5,497V507 M219.5,497V507 M221.5,497V507 M223.5,497V506 M225.5,497V504 M227.5,497V503 M229.5,497V502 M231.5,497V501 M233.5,497V501 M235.5,497V500 M237.5,497V500 M239.5,497V500 M241.5,497V499 M243.5,497V499 M245.5,497V498 M247.5,497V498 M249.5,496V497 M251.5,495V497 M253.5,494V497 M255.5,494V497 M257.5,495V497 M259.5,497V500 M261.5,497V503 M263.5,497V504 M265.5,497V506 M267.5,497V507 M269.5,497V509 M271.5,497V511 M273.5,497V514 M275.5,497V516 M277.5,497V517 M279.5,497V518 M281.5,497V518 M283.5,497V518 M285.5,497V519 M287.5,497V519 M289.5,497V519 M291.5,497V518 M293.5,497V517 M295.5,497V516 M297.5,497V515 M299.5,497V515 M301.5,497V513 M303.5,497V511 M305.5,497V509 M307.5,497V509 M309.5,497V508 M311.5,497V508 M313.5,497V508 M315.5,497V508 M317.5,497V507 M319.5,497V507 M321.5,497V507 M323.5,497V507 M325.5,497V506 M327.5,497V506 M329.5,497V506 M331.5,497V505 M333.5,497V504 M335.5,497V502 M337.5,497V502 M339.5,497V502 M341.5,497V501 M343.5,497V500 M345.5,497V500 M347.5,497V500 M349.5,497V499 M351.5,497V498 M353.5,495V497 M355.5,489V497 M357.5,489V497 M359.5,490V497 M361.5,491V497 M363.5,491V497 M365.5,492V497 M367.5,492V497 M369.5,492V497 M371.5,492V497 M373.5,491V497 M375.5,492V497 M377.5,492V497 M379.5,493V497 M381.5,493V497 M383.5,494V497 M385.5,494V497 M387.5,495V497 M389.5,496V497 M391.5,497V498 M393.5,497V499 M395.5,497V500 M397.5,497V500 M399.5,497V501 M401.5,497V503 M403.5,497V505 M405.5,497V507 M407.5,497V509 M409.5,497V511 M411.5,497V513 M413.5,497V516 M415.5,497V517 M417.5,497V518 M419.5,497V519 M421.5,497V518 M423.5,497V517 M425.5,497V516 M427.5,497V515 M429.5,497V514 M431.5,497V514 M433.5,497V513 M435.5,497V512 M437.5,497V512 M439.5,497V514 M441.5,497V516 M443.5,497V519 M445.5,497V521 M447.5,497V524 M449.5,497V527 M451.5,497V530 M453.5,497V532 M455.5,497V534 M457.5,497V534 M459.5,497V534 M461.5,497V534 M463.5,497V533 M465.5,497V531 M467.5,497V529 M469.5,497V527 M471.5,497V524 M473.5,497V523 M475.5,497V522 M477.5,497V521 M479.5,497V520 M481.5,497V519 M483.5,497V518 M485.5,497V517 M487.5,497V516 M489.5,497V515 M491.5,497V514 M493.5,497V513 M495.5,497V514 M497.5,497V514 M499.5,497V514 M501.5,497V514 M503.5,497V514 M505.5,497V514 M507.5,497V514 M509.5,497V514 M511.5,497V514 M513.5,497V514 M515.5,497V514 M517.5,497V514 M519.5,497V514 M521.5,497V514 M523.5,497V514 M525.5,497V514 M527.5,497V514 M529.5,497V514 M531.5,497V514 M533.5,497V515 M535.5,497V518 M537.5,497V520 M539.5,497V522 M541.5,497V524 M543.5,497V523 M545.5,497V522 M547.5,497V521 M549.5,497V519 M551.5,497V517 M553.5,497V515 M555.5,497V513 M557.5,497V511 M559.5,497V510 M561.5,497V509 M563.5,497V507 M565.5,497V507 M567.5,497V506 M569.5,497V505 M571.5,497V505 M573.5,497V504 M575.5,497V504 M577.5,497V504 M579.5,497V505 M581.5,497V506 M583.5,497V508 M585.5,497V510 M587.5,497V513 M589.5,497V515 M591.5,497V517 M593.5,497V518 M595.5,497V518 M597.5,497V518 M599.5,497V518 M601.5,497V517 M603.5,497V516 M605.5,497V515 M607.5,497V515 M3,497.5H608" stroke="#c0c0c0" stroke-width="1" shape-rendering="crispEdges"/><polyline points="3.0,500.0 9.1,497.7 15.2,496.2 22.7,493.2 28.8,493.2 34.8,494.7 40.2,496.5 45.5,495.4 51.5,492.4 57.6,489.4 63.6,487.1 69.7,485.6 75.8,484.1 81.8,482.5 87.9,481.8 95.0,482.0 100.0,482.8 104.8,484.0 112.1,489.5 118.2,493.8 124.2,500.4 130.3,506.5 136.4,510.1 142.4,512.5 148.5,513.4 154.5,513.4 160.6,510.5 166.7,507.1 172.7,504.7 180.0,501.6 184.2,500.4 190.3,499.6 208.5,499.6 214.5,499.8 220.0,502.8 226.1,505.3 232.1,504.4 238.2,502.2 244.2,500.4 249.7,497.4 256.4,495.9 262.1,496.8 268.1,500.4 274.2,506.5 279.6,511.9 285.1,516.2 291.2,518.0 297.2,517.4 303.3,516.2 309.3,513.2 315.4,511.3 321.5,509.5 327.5,508.3 333.6,507.1 334.0,506.5 339.5,505.3 345.5,502.8 351.6,500.4 357.6,496.8 363.1,493.2 369.2,490.1 375.2,490.7 381.3,491.3 387.3,492.5 393.4,493.8 399.5,496.8 405.5,501.0 411.6,506.5 416.8,511.8 422.9,516.1 429.0,517.3 435.0,515.5 441.1,514.2 447.2,516.1 452.6,521.5 457.5,527.6 462.9,531.8 469.0,533.0 475.0,530.0 481.1,525.2 487.2,520.9 492.4,517.3 498.5,515.5 536.1,515.5 540.9,519.1 547.0,521.5 553.2,521.3 559.5,517.0 565.4,512.3 571.2,508.0 577.6,506.4 583.4,506.4 589.2,510.1 595.6,514.9 601.4,518.1 606.7,518.4" fill="none" stroke="#ff0000" stroke-width="1" stroke-linejoin="round" shape-rendering="crispEdges" stroke-dasharray="3 3"/></g><rect x="2.5" y="2.5" width="618" height="317" fill="none" stroke="#000" stroke-width="1" shape-rendering="crispEdges"/><rect x="2.5" y="321.5" width="618" height="74" fill="none" stroke="#000" stroke-width="1" shape-rendering="crispEdges"/><rect x="2.5" y="397.5" width="618" height="72" fill="none" stroke="#000" stroke-width="1" shape-rendering="crispEdges"/><rect x="2.5" y="471.5" width="618" height="68" fill="none" stroke="#000" stroke-width="1" shape-rendering="crispEdges"/><path d="M620,18.5H623 M620,51.5H623 M620,84.5H623 M620,117.5H623 M620,150.5H623 M620,183.5H623 M620,216.5H623 M620,249.5H623 M620,282.5H623 M620,316.5H623 M621,323.5H622 M3.5,540V543 M67.5,540V543 M131.5,540V543 M195.5,540V543 M259.5,540V543 M323.5,540V543 M387.5,540V543 M451.5,540V543 M515.5,540V543 M579.5,540V543" stroke="#000" stroke-width="1" shape-rendering="crispEdges"/><g font-family='"Liberation Sans", "DejaVu Sans", sans-serif'><text x="625.5" y="22" fill="#000" stroke="#000" stroke-width="0.25" font-size="9.7" textLength="24.0" lengthAdjust="spacingAndGlyphs" >53.75</text><text x="625.5" y="55" fill="#000" stroke="#000" stroke-width="0.25" font-size="9.7" textLength="24.0" lengthAdjust="spacingAndGlyphs" >52.55</text><text x="625.5" y="88" fill="#000" stroke="#000" stroke-width="0.25" font-size="9.7" textLength="24.0" lengthAdjust="spacingAndGlyphs" >51.30</text><text x="625.5" y="121" fill="#000" stroke="#000" stroke-width="0.25" font-size="9.7" textLength="24.0" lengthAdjust="spacingAndGlyphs" >50.10</text><text x="625.5" y="154" fill="#000" stroke="#000" stroke-width="0.25" font-size="9.7" textLength="24.0" lengthAdjust="spacingAndGlyphs" >48.85</text><text x="625.5" y="187" fill="#000" stroke="#000" stroke-width="0.25" font-size="9.7" textLength="24.0" lengthAdjust="spacingAndGlyphs" >47.65</text><text x="625.5" y="220" fill="#000" stroke="#000" stroke-width="0.25" font-size="9.7" textLength="24.0" lengthAdjust="spacingAndGlyphs" >46.40</text><text x="625.5" y="253" fill="#000" stroke="#000" stroke-width="0.25" font-size="9.7" textLength="24.0" lengthAdjust="spacingAndGlyphs" >45.20</text><text x="625.5" y="320" fill="#000" stroke="#000" stroke-width="0.25" font-size="9.7" textLength="24.0" lengthAdjust="spacingAndGlyphs" >42.70</text><rect x="622" y="198" width="31" height="11" fill="#ff0000"/><text x="625.5" y="207" fill="#fff" stroke="#fff" stroke-width="0.25" font-size="9.7" textLength="24.0" lengthAdjust="spacingAndGlyphs" >46.87</text><rect x="622" y="224" width="31" height="11" fill="#ff0000"/><text x="625.5" y="233" fill="#fff" stroke="#fff" stroke-width="0.25" font-size="9.7" textLength="24.0" lengthAdjust="spacingAndGlyphs" >45.90</text><rect x="622" y="255" width="31" height="12" fill="#000"/><text x="625.5" y="264" fill="#fff" stroke="#fff" stroke-width="0.25" font-size="9.7" textLength="24.0" lengthAdjust="spacingAndGlyphs" >44.73</text><rect x="622" y="249" width="31" height="11" fill="#ff0000"/><text x="625.5" y="258" fill="#fff" stroke="#fff" stroke-width="0.25" font-size="9.7" textLength="24.0" lengthAdjust="spacingAndGlyphs" >44.95</text><rect x="622" y="275" width="31" height="11" fill="#008000"/><text x="625.5" y="284" fill="#fff" stroke="#fff" stroke-width="0.25" font-size="9.7" textLength="24.0" lengthAdjust="spacingAndGlyphs" >44.00</text><rect x="622" y="287" width="31" height="11" fill="#008000"/><text x="625.5" y="296" fill="#fff" stroke="#fff" stroke-width="0.25" font-size="9.7" textLength="24.0" lengthAdjust="spacingAndGlyphs" >43.54</text><path d="M6,9H13L9.5,13Z" fill="#000"/><text x="17.5" y="14" fill="#000" stroke="#000" stroke-width="0.25" font-size="9.7" textLength="68.0" lengthAdjust="spacingAndGlyphs" >CRUDE_Z16,H1</text><text x="91.9" y="14" fill="#000" stroke="#000" stroke-width="0.25" font-size="9.7" textLength="23.1" lengthAdjust="spacingAndGlyphs" >44.76</text><text x="117.5" y="14" fill="#000" stroke="#000" stroke-width="0.25" font-size="9.7" textLength="23.5" lengthAdjust="spacingAndGlyphs" >44.79</text><text x="143.5" y="14" fill="#000" stroke="#000" stroke-width="0.25" font-size="9.7" textLength="23.0" lengthAdjust="spacingAndGlyphs" >44.73</text><text x="169.5" y="14" fill="#000" stroke="#000" stroke-width="0.25" font-size="9.7" textLength="23.7" lengthAdjust="spacingAndGlyphs" >44.73</text><text x="7.0" y="334" fill="#000" stroke="#000" stroke-width="0.25" font-size="9.7" textLength="67.3" lengthAdjust="spacingAndGlyphs" >RSI(14) 34.1461</text><text x="80.8" y="334" fill="#000" stroke="#000" stroke-width="0.25" font-size="9.7" textLength="77.2" lengthAdjust="spacingAndGlyphs" >-&gt;MA(18) 33.1147</text><text x="7.0" y="410" fill="#000" stroke="#000" stroke-width="0.25" font-size="9.7" textLength="122.3" lengthAdjust="spacingAndGlyphs" >Stoch(5,3,3) 49.2063 62.4079</text><text x="7.0" y="484" fill="#000" stroke="#000" stroke-width="0.25" font-size="9.7" textLength="124.0" lengthAdjust="spacingAndGlyphs" >MACD(12,26,9) -0.253 -0.298</text><text x="623.5" y="333" fill="#000" stroke="#000" stroke-width="0.25" font-size="9.7" textLength="16.0" lengthAdjust="spacingAndGlyphs" >100</text><text x="623.1" y="348" fill="#000" stroke="#000" stroke-width="0.25" font-size="9.7" textLength="10.0" lengthAdjust="spacingAndGlyphs" >70</text><text x="623.1" y="377" fill="#000" stroke="#000" stroke-width="0.25" font-size="9.7" textLength="10.0" lengthAdjust="spacingAndGlyphs" >30</text><text x="623.5" y="391" fill="#000" stroke="#000" stroke-width="0.25" font-size="9.7" textLength="6.0" lengthAdjust="spacingAndGlyphs" >0</text><text x="623.5" y="408" fill="#000" stroke="#000" stroke-width="0.25" font-size="9.7" textLength="16.0" lengthAdjust="spacingAndGlyphs" >100</text><text x="623.1" y="416" fill="#000" stroke="#000" stroke-width="0.25" font-size="9.7" textLength="10.0" lengthAdjust="spacingAndGlyphs" >80</text><text x="623.1" y="458" fill="#000" stroke="#000" stroke-width="0.25" font-size="9.7" textLength="10.0" lengthAdjust="spacingAndGlyphs" >20</text><text x="623.5" y="466" fill="#000" stroke="#000" stroke-width="0.25" font-size="9.7" textLength="6.0" lengthAdjust="spacingAndGlyphs" >0</text><text x="623.5" y="482" fill="#000" stroke="#000" stroke-width="0.25" font-size="9.7" textLength="24.0" lengthAdjust="spacingAndGlyphs" >0.354</text><text x="623.5" y="501" fill="#000" stroke="#000" stroke-width="0.25" font-size="9.7" textLength="18.0" lengthAdjust="spacingAndGlyphs" >0.00</text><text x="623.5" y="536" fill="#000" stroke="#000" stroke-width="0.25" font-size="9.7" textLength="27.0" lengthAdjust="spacingAndGlyphs" >-0.599</text><text x="2.2" y="552" fill="#000" stroke="#000" stroke-width="0.25" font-size="9.7" textLength="50.6" lengthAdjust="spacingAndGlyphs" >18 Oct 2016</text><text x="66.2" y="552" fill="#000" stroke="#000" stroke-width="0.25" font-size="9.7" textLength="54.3" lengthAdjust="spacingAndGlyphs" >19 Oct 11:00</text><text x="130.2" y="552" fill="#000" stroke="#000" stroke-width="0.25" font-size="9.7" textLength="54.3" lengthAdjust="spacingAndGlyphs" >20 Oct 20:00</text><text x="194.5" y="552" fill="#000" stroke="#000" stroke-width="0.25" font-size="9.7" textLength="53.3" lengthAdjust="spacingAndGlyphs" >24 Oct 06:00</text><text x="257.8" y="552" fill="#000" stroke="#000" stroke-width="0.25" font-size="9.7" textLength="54.4" lengthAdjust="spacingAndGlyphs" >25 Oct 15:00</text><text x="322.2" y="552" fill="#000" stroke="#000" stroke-width="0.25" font-size="9.7" textLength="54.0" lengthAdjust="spacingAndGlyphs" >27 Oct 01:00</text><text x="386.2" y="552" fill="#000" stroke="#000" stroke-width="0.25" font-size="9.7" textLength="54.3" lengthAdjust="spacingAndGlyphs" >28 Oct 10:00</text><text x="449.5" y="552" fill="#000" stroke="#000" stroke-width="0.25" font-size="9.7" textLength="55.0" lengthAdjust="spacingAndGlyphs" >31 Oct 18:00</text><text x="513.5" y="552" fill="#000" stroke="#000" stroke-width="0.25" font-size="9.7" textLength="53.0" lengthAdjust="spacingAndGlyphs" >2 Nov 04:00</text><text x="577.8" y="552" fill="#000" stroke="#000" stroke-width="0.25" font-size="9.7" textLength="52.7" lengthAdjust="spacingAndGlyphs" >3 Nov 13:00</text></g></svg>
</body></html>
